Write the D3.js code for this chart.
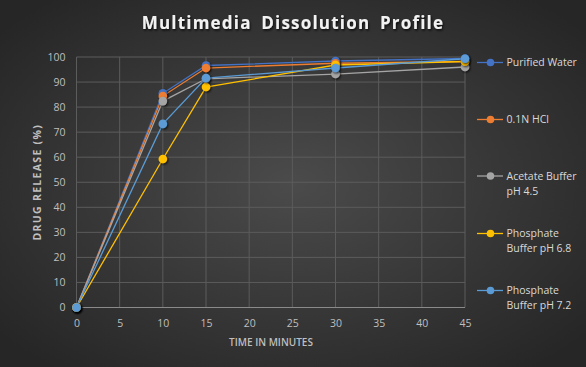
<!DOCTYPE html>
<html><head><meta charset="utf-8">
<script src="https://cdn.jsdelivr.net/npm/d3@7"></script>
<style>html,body{margin:0;padding:0;background:#333;}svg{display:block;}</style>
</head><body>
<script>
const times = [0, 10, 15, 30, 45];
const seriesNames = ["Purified Water", "0.1N HCl", "Acetate Buffer pH 4.5", "Phosphate Buffer pH 6.8", "Phosphate Buffer pH 7.2"];
const legendLines = [["Purified Water"], ["0.1N HCl"], ["Acetate Buffer", "pH 4.5"], ["Phosphate", "Buffer pH 6.8"], ["Phosphate", "Buffer pH 7.2"]];
const purifiedWater = [0, 85.5, 96.6, 98.4, 99.4];
const hcl = [0, 84.4, 95.6, 97.5, 98.2];
const acetate = [0, 82.4, 91.3, 93.2, 96.0];
const pb68 = [0, 59.3, 88.0, 96.8, 98.2];
const pb72 = [0, 73.3, 91.6, 95.6, 99.3];
const seriesValues = [purifiedWater, hcl, acetate, pb68, pb72];
const colors = ["#4472C4", "#ED7D31", "#A5A5A5", "#FFC000", "#5B9BD5"];
const xTicks = [0, 5, 10, 15, 20, 25, 30, 35, 40, 45];
const yTicks = [0, 10, 20, 30, 40, 50, 60, 70, 80, 90, 100];

const W = 586, H = 367;
const svg = d3.select("body").append("svg").attr("width", W).attr("height", H);
const defs = svg.append("defs");
const rg = defs.append("radialGradient").attr("id", "bg").attr("cx", "50%").attr("cy", "50%").attr("r", "65%");
rg.append("stop").attr("offset", "0%").attr("stop-color", "#4b4b4b");
rg.append("stop").attr("offset", "100%").attr("stop-color", "#262626");
const sh = defs.append("filter").attr("id", "sh").attr("x", "-50%").attr("y", "-50%").attr("width", "200%").attr("height", "200%");
sh.append("feDropShadow").attr("dx", 1).attr("dy", 1.2).attr("stdDeviation", 0.9).attr("flood-color", "#000").attr("flood-opacity", 0.75);
const tsh = defs.append("filter").attr("id", "tsh");
tsh.append("feDropShadow").attr("dx", 1).attr("dy", 1.5).attr("stdDeviation", 1).attr("flood-color", "#000").attr("flood-opacity", 0.8);

svg.append("rect").attr("width", W).attr("height", H).attr("fill", "url(#bg)");

const x = d3.scaleLinear().domain([0, 45]).range([76.5, 465]);
const y = d3.scaleLinear().domain([0, 100]).range([307.5, 57]);

// grid
const g = svg.append("g");
g.selectAll("line.v").data(xTicks).join("line")
  .attr("x1", d => x(d)).attr("x2", d => x(d)).attr("y1", y(0)).attr("y2", y(100))
  .attr("stroke", "#5c5c5c").attr("stroke-width", 1);
g.selectAll("line.h").data(yTicks).join("line")
  .attr("x1", x(0)).attr("x2", x(45)).attr("y1", d => y(d)).attr("y2", d => y(d))
  .attr("stroke", d => d === 0 ? "#8a8a8a" : "#5c5c5c").attr("stroke-width", 1);

// axes
const xAxis = svg.append("g").attr("transform", `translate(0,${y(0)})`)
  .call(d3.axisBottom(x).tickValues(xTicks).tickSize(0).tickPadding(12));
const yAxis = svg.append("g").attr("transform", `translate(${x(0)},0)`)
  .call(d3.axisLeft(y).tickValues(yTicks).tickSize(0).tickPadding(11));
[xAxis, yAxis].forEach(a => {
  a.select(".domain").remove();
  a.selectAll("text").attr("fill", "#bfbfbf").attr("font-size", "10.5px").attr("font-family", "'Open Sans', sans-serif");
});

// lines
const line = d3.line().x((d, i) => x(times[i])).y(d => y(d));
seriesValues.forEach((vals, s) => {
  svg.append("path").datum(vals).attr("d", line).attr("fill", "none")
    .attr("stroke", colors[s]).attr("stroke-width", 1.3);
});
seriesValues.forEach((vals, s) => {
  svg.append("g").selectAll("circle").data(vals).join("circle")
    .attr("cx", (d, i) => x(times[i])).attr("cy", d => y(d)).attr("r", 4.3)
    .attr("fill", colors[s]).attr("filter", "url(#sh)");
});

// title
svg.append("text").attr("x", 293).attr("y", 29).attr("text-anchor", "middle")
  .attr("font-family", "'Open Sans', sans-serif").attr("font-weight", "bold").attr("font-size", "17px")
  .attr("letter-spacing", "1.2px").attr("word-spacing", "4px")
  .attr("fill", "#f2f2f2").attr("filter", "url(#tsh)").text("Multimedia Dissolution Profile");

// axis titles
svg.append("text").attr("x", 271).attr("y", 346).attr("text-anchor", "middle")
  .attr("font-family", "'Open Sans', sans-serif").attr("font-weight", "600").attr("font-size", "10px")
  .attr("fill", "#bfbfbf").text("TIME IN MINUTES");
svg.append("text").attr("transform", `translate(41,${(y(0) + y(100)) / 2}) rotate(-90)`).attr("text-anchor", "middle")
  .attr("font-family", "'Open Sans', sans-serif").attr("font-weight", "bold").attr("font-size", "10.5px")
  .attr("letter-spacing", "1.3px").attr("fill", "#bfbfbf").text("DRUG RELEASE (%)");

// legend
const legY = [62.5, 119.5, 176, 233.5, 290.5];
seriesNames.forEach((n, s) => {
  const lg = svg.append("g").attr("transform", `translate(0,${legY[s]})`);
  lg.append("line").attr("x1", 477).attr("x2", 503).attr("y1", 0).attr("y2", 0).attr("stroke", colors[s]).attr("stroke-width", 1.3);
  lg.append("circle").attr("cx", 490.5).attr("cy", 0).attr("r", 3.8).attr("fill", colors[s]);
  const t = lg.append("text").attr("x", 506.5).attr("y", 3.8)
    .attr("font-family", "'Open Sans', sans-serif").attr("font-size", "10.5px").attr("fill", "#d9d9d9");
  legendLines[s].forEach((ln, k) => t.append("tspan").attr("x", 506.5).attr("dy", k === 0 ? 0 : 15).text(ln));
});
</script>
</body></html>
